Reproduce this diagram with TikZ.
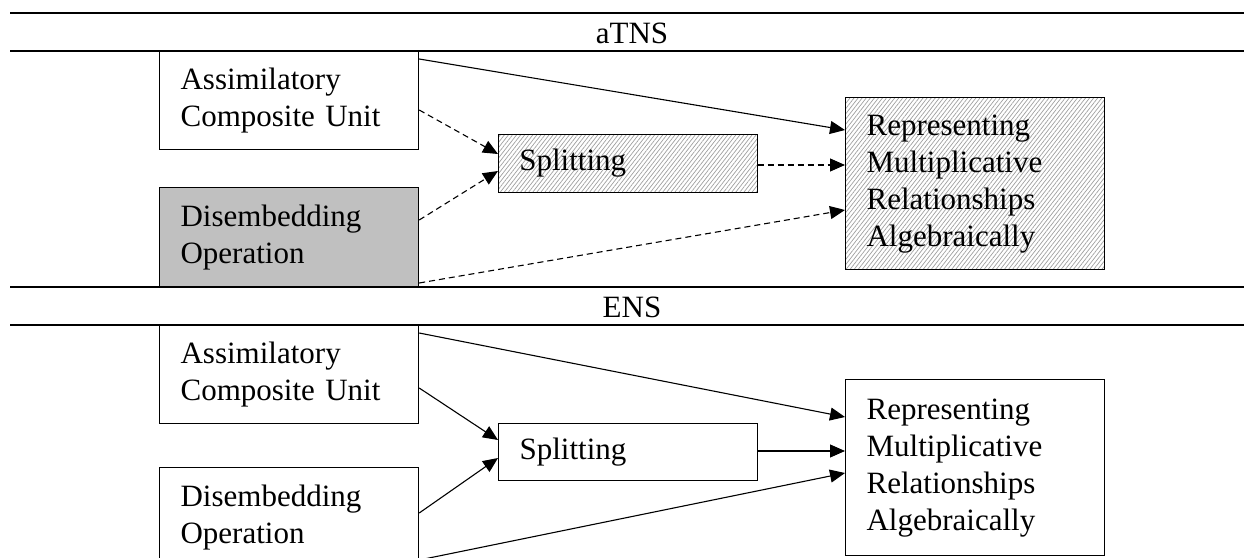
\documentclass[tikz,border=0pt]{standalone}
\usepackage{fontspec}
\setmainfont{Liberation Serif}
\usetikzlibrary{arrows.meta,patterns.meta}
\newcommand\myfs{\fontsize{31}{37}\selectfont}
\definecolor{boxgray}{HTML}{C0C0C0}
\begin{document}
\begin{tikzpicture}[x=1pt,y=-1pt,
  box/.style={draw, line width=1.2pt, inner sep=0pt, align=left, anchor=north west,
    font=\myfs, minimum width=259pt, text width=217pt},
  hatch/.style={pattern={Lines[angle=52,distance=3.2pt,line width=0.7pt]}, pattern color=gray!75},
  sep/.style={line width=2.2pt},
  conn/.style={line width=1.1pt, -{Triangle[length=15pt,width=13pt]}},
  dconn/.style={conn, dash pattern=on 6pt off 4pt},
  title/.style={font=\myfs, anchor=base, inner sep=0pt}]
\useasboundingbox (0,0) rectangle (1244,557);
% top panel
\node[box, minimum height=98pt] (acu1) at (159,51) {Assimilatory\\Composite Unit};
\node[box, minimum height=99pt, fill=boxgray] (dis1) at (159,187) {Disembedding\\Operation};
\node[box, minimum height=58pt, hatch] (spl1) at (498,134) {Splitting};
\node[box, minimum height=172pt, hatch] (rm1) at (845,97) {Representing\\Multiplicative\\Relationships\\Algebraically};
\draw[conn] ([yshift=-8pt]acu1.north east) -- ([yshift=-33pt]rm1.north west);
\draw[dconn] ([yshift=-59pt]acu1.north east) -- ([yshift=-20pt]spl1.north west);
\draw[dconn] ([yshift=-33pt]dis1.north east) -- ([yshift=-37pt]spl1.north west);
\draw[dconn] ([yshift=-31pt]spl1.north east) -- ([yshift=-68pt]rm1.north west);
\draw[dconn] ([yshift=-96pt]dis1.north east) -- ([yshift=-113pt]rm1.north west);
% bottom panel
\node[box, minimum height=98pt] (acu2) at (159,325) {Assimilatory\\Composite Unit};
\node[box, minimum height=100pt] (dis2) at (159,467) {Disembedding\\Operation};
\node[box, minimum height=57pt] (spl2) at (498,423) {Splitting};
\node[box, minimum height=176pt] (rm2) at (845,379) {Representing\\Multiplicative\\Relationships\\Algebraically};
\draw[conn] ([yshift=-8pt]acu2.north east) -- ([yshift=-38pt]rm2.north west);
\draw[conn] ([yshift=-63pt]acu2.north east) -- ([yshift=-17pt]spl2.north west);
\draw[conn] ([yshift=-46pt]dis2.north east) -- ([yshift=-35pt]spl2.north west);
\draw[conn] ([yshift=-28pt]spl2.north east) -- ([yshift=-72pt]rm2.north west);
\draw[conn] ([yshift=-93pt]dis2.north east) -- ([yshift=-94pt]rm2.north west);
% separators and titles
\coordinate (l1) at (10,13); \coordinate (r1) at (1244,13);
\coordinate (l2) at (10,51); \coordinate (r2) at (1244,51);
\coordinate (l3) at (10,287); \coordinate (r3) at (1244,287);
\coordinate (l4) at (10,325); \coordinate (r4) at (1244,325);
\draw[sep] (l1) -- (r1);
\draw[sep] (l2) -- (r2);
\draw[sep] (l3) -- (r3);
\draw[sep] (l4) -- (r4);
\node[title] (t1) at (632,43) {aTNS};
\node[title] (t2) at (632,317) {ENS};
\end{tikzpicture}
\end{document}
